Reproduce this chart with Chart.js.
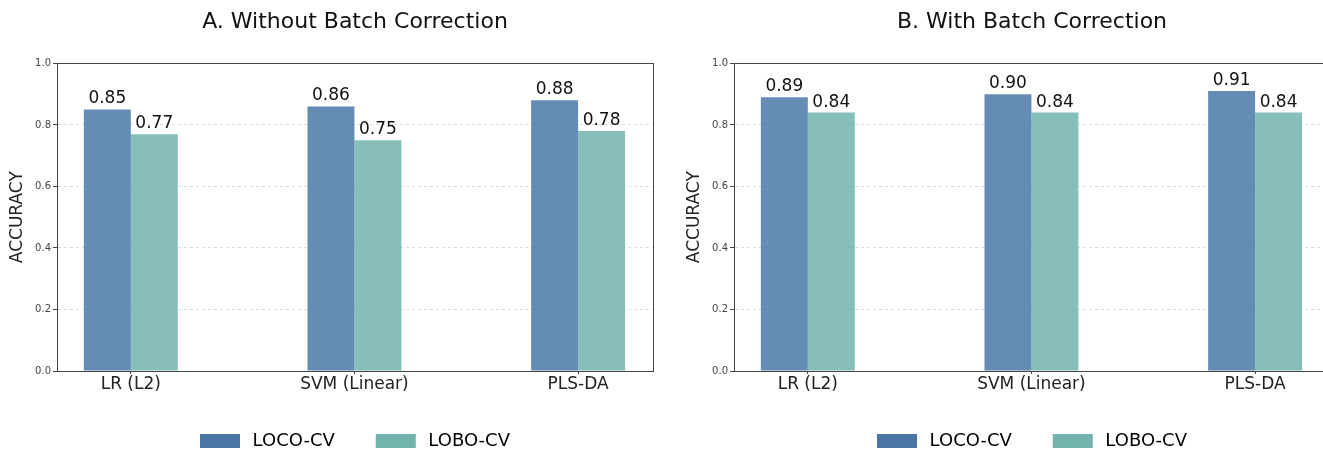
<!DOCTYPE html>
<html>
<head>
<meta charset="utf-8">
<script src="https://cdn.jsdelivr.net/npm/chart.js@4.4.1/dist/chart.umd.min.js"></script>
<style>
  html, body { margin: 0; padding: 0; background: #fff; overflow: hidden; }
  .box { position: absolute; top: 0; height: 450px; }
  #boxA { left: 0; width: 661px; }
  #boxB { left: 662px; width: 672px; }
</style>
</head>
<body>
<div class="box" id="boxA"><canvas id="chartA" width="661" height="450"></canvas></div>
<div class="box" id="boxB"><canvas id="chartB" width="672" height="450"></canvas></div>
<script>
const categories = ["LR (L2)", "SVM (Linear)", "PLS-DA"];
const locoA = [0.85, 0.86, 0.88];
const loboA = [0.77, 0.75, 0.78];
const locoB = [0.89, 0.90, 0.91];
const loboB = [0.84, 0.84, 0.84];
const yTicks = [0, 0.2, 0.4, 0.6, 0.8, 1.0];

const FONT = "'DejaVu Sans', sans-serif";
const locoBar = "rgba(74, 120, 168, 0.85)";
const loboBar = "rgba(114, 179, 173, 0.85)";
const locoLegend = "#4a76a6";
const loboLegend = "#72b3ad";

// frame around the plot area + value labels over bars
const framePlugin = {
  id: "frame",
  afterDatasetsDraw(chart) {
    const ctx = chart.ctx;
    const a = chart.chartArea;
    ctx.save();
    ctx.font = "17px " + FONT;
    ctx.fillStyle = "#111";
    ctx.textAlign = "center";
    ctx.textBaseline = "bottom";
    chart.data.datasets.forEach((ds, i) => {
      chart.getDatasetMeta(i).data.forEach((bar, j) => {
        ctx.fillText(ds.data[j].y.toFixed(2), bar.x, bar.y - 2);
      });
    });
    ctx.strokeStyle = "#444";
    ctx.lineWidth = 1;
    ctx.strokeRect(Math.round(a.left) + 0.5, Math.round(a.top) + 0.5,
      Math.round(a.right - a.left), Math.round(a.bottom - a.top));
    ctx.restore();
  },
};

function makeChart(id, title, loco, lobo, axisWidth, padRight, titlePad) {
  const toPoints = (vals) => vals.map((v, i) => ({ x: i, y: v }));
  return new Chart(document.getElementById(id), {
    type: "bar",
    data: {
      datasets: [
        { label: "LOCO-CV", data: toPoints(loco), backgroundColor: locoBar, borderWidth: 0 },
        { label: "LOBO-CV", data: toPoints(lobo), backgroundColor: loboBar, borderWidth: 0 },
      ],
    },
    plugins: [framePlugin],
    options: {
      responsive: false,
      animation: false,
      categoryPercentage: 0.42,
      barPercentage: 1,
      layout: { padding: { left: 0, right: padRight, top: 0, bottom: -10 } },
      plugins: {
        title: {
          display: true,
          text: title,
          fullSize: false,
          color: "#111",
          font: { family: FONT, size: 22, weight: "normal" },
          padding: { top: 9, bottom: 28 },
        },
        legend: {
          position: "bottom",
          fullSize: false,
          labels: {
            font: { family: FONT, size: 18 },
            color: "#222",
            boxWidth: 40,
            boxHeight: 14,
            padding: 41,
            generateLabels: () => [
              { text: "\u2009LOCO-CV", fillStyle: locoLegend, strokeStyle: locoLegend, lineWidth: 0, datasetIndex: 0 },
              { text: "\u2009LOBO-CV", fillStyle: loboLegend, strokeStyle: loboLegend, lineWidth: 0, datasetIndex: 1 },
            ],
          },
        },
        tooltip: { enabled: false },
      },
      scales: {
        x: {
          type: "linear",
          offset: false,
          min: -0.33,
          max: 2.335,
          afterBuildTicks: (scale) => {
            scale.ticks = categories.map((c, i) => ({ value: i }));
          },
          afterFit: (scale) => { scale.height = 20; },
          ticks: {
            padding: 0,
            color: "#222",
            font: { family: FONT, size: 17 },
            callback: (v) => categories[v],
          },
          grid: { offset: false, drawOnChartArea: false, tickLength: 3, tickColor: "#444" },
          border: { color: "#444" },
        },
        y: {
          min: 0,
          max: 1,
          afterBuildTicks: (scale) => {
            scale.ticks = yTicks.map((v) => ({ value: v }));
          },
          afterFit: (scale) => { scale.width = axisWidth; },
          ticks: {
            padding: 2,
            color: "#444",
            font: { family: FONT, size: 10 },
            callback: (v) => v.toFixed(1),
          },
          grid: { color: "#dddddd", tickLength: 4, tickColor: "#444", tickBorderDash: [] },
          border: { color: "#444", dash: [3, 3] },
          title: {
            display: true,
            text: "ACCURACY",
            color: "#222",
            font: { family: FONT, size: 17 },
            padding: { top: titlePad, bottom: 0 },
          },
        },
      },
    },
  });
}

makeChart("chartA", "A. Without Batch Correction", locoA, loboA, 57, 8, 7);
makeChart("chartB", "B. With Batch Correction", locoB, loboB, 72, 4, 22);
</script>
</body>
</html>
